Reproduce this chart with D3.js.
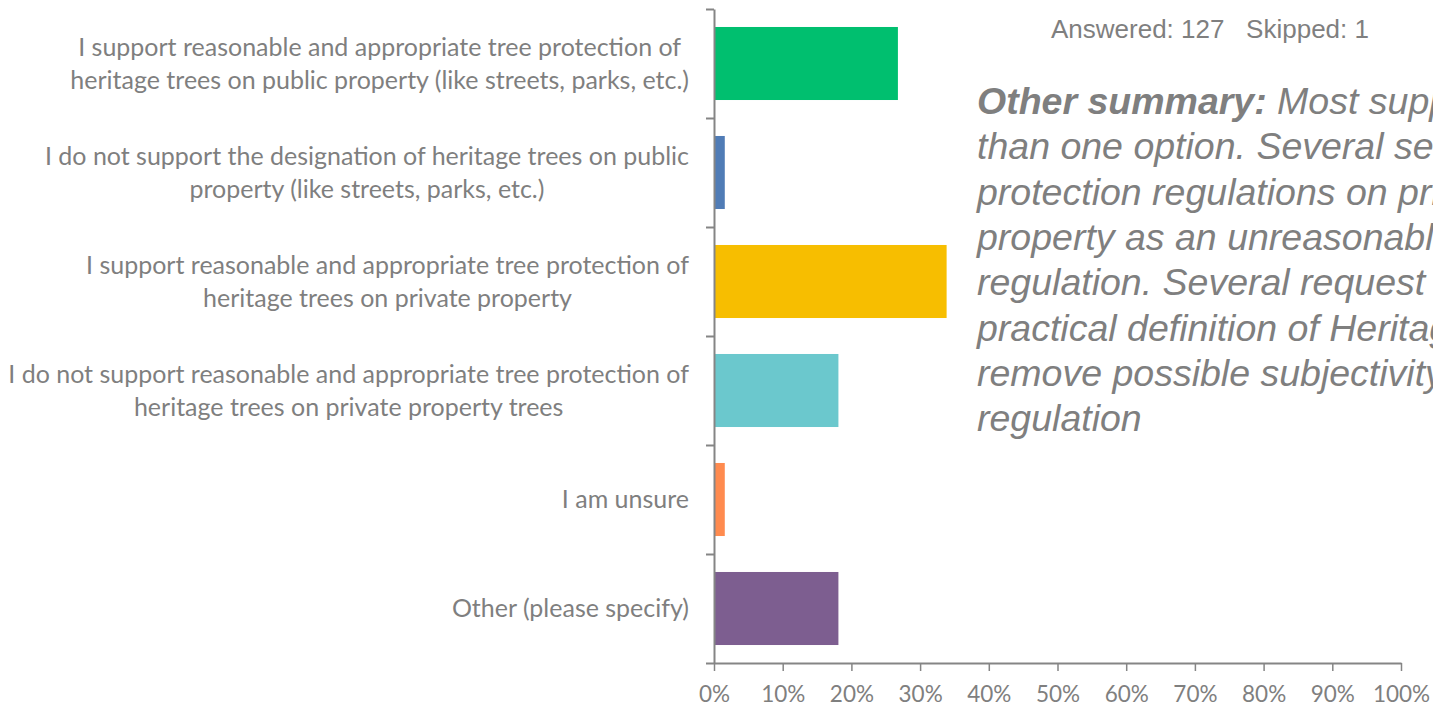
<!DOCTYPE html>
<html>
<head>
<meta charset="utf-8">
<script src="https://cdn.jsdelivr.net/npm/d3@7"></script>
<style>
  html, body { margin: 0; padding: 0; background: #fff; overflow: hidden; }
  svg { display: block; }
</style>
</head>
<body>
<svg id="chart" width="1433" height="707"></svg>
<script>
// ---- data ----
const categories = [
  ["I support reasonable and appropriate tree protection of", "heritage trees on public property (like streets, parks, etc.)"],
  ["I do not support the designation of heritage trees on public", "property (like streets, parks, etc.)"],
  ["I support reasonable and appropriate tree protection of", "heritage trees on private property"],
  ["I do not support reasonable and appropriate tree protection of", "heritage trees on private property trees"],
  ["I am unsure"],
  ["Other (please specify)"]
];
const values = [0.2677, 0.0157, 0.3386, 0.1811, 0.0157, 0.1811];
const colors = ["#00BF6F", "#507CB6", "#F7BE00", "#6BC8CD", "#FF8B4F", "#7D5E90"];
const xTicks = [0, 0.1, 0.2, 0.3, 0.4, 0.5, 0.6, 0.7, 0.8, 0.9, 1.0];
const headerText = "Answered: 127\u00A0\u00A0\u00A0Skipped: 1";
const summaryBold = "Other summary:";
const summaryLines = [
  " Most supported more",
  "than one option. Several see tree",
  "protection regulations on private",
  "property as an unreasonable",
  "regulation. Several request a",
  "practical definition of Heritage Trees to",
  "remove possible subjectivity in the",
  "regulation"
];

// ---- layout ----
const svg = d3.select("#chart");
const pLeft = 714, pRight = 1401, pTop = 9, pBottom = 663;
const gray = "#858585";
const textGray = "#7f7f7f";

const x = d3.scaleLinear().domain([0, 1]).range([pLeft, pRight]);
const idx = d3.range(categories.length);
const y = d3.scaleBand().domain(idx).range([pTop, pBottom]).paddingInner(0.33).paddingOuter(0.165);
const yEdges = d3.scaleLinear().domain([0, categories.length]).range([pTop, pBottom]);

// bars
svg.append("g").selectAll("rect").data(values).join("rect")
  .attr("x", x(0))
  .attr("y", (d, i) => y(i))
  .attr("width", d => x(d) - x(0))
  .attr("height", y.bandwidth())
  .attr("fill", (d, i) => colors[i]);

// y axis (category boundaries)
const yAxis = svg.append("g").attr("transform", `translate(${pLeft},0)`)
  .call(d3.axisLeft(yEdges).tickValues(d3.range(categories.length + 1)).tickFormat("").tickSize(8).tickSizeOuter(0));
yAxis.select(".domain").attr("stroke", gray).attr("stroke-width", 2);
yAxis.selectAll(".tick line").attr("stroke", gray).attr("stroke-width", 2);

// x axis
const xAxis = svg.append("g").attr("transform", `translate(0,${pBottom})`)
  .call(d3.axisBottom(x).tickValues(xTicks).tickFormat(d3.format(".0%")).tickSize(8).tickSizeOuter(0).tickPadding(15));
xAxis.select(".domain").attr("stroke", gray).attr("stroke-width", 2);
xAxis.selectAll(".tick line").attr("stroke", gray).attr("stroke-width", 1.5);
xAxis.selectAll(".tick text")
  .attr("fill", textGray)
  .style("font-family", "Lato, 'Open Sans', sans-serif")
  .style("font-size", "22.5px");

// category labels
const labelFont = "Lato, 'Open Sans', sans-serif";
const labelRight = 689;
const lineGap = 33;
const labelG = svg.append("g")
  .style("font-family", labelFont)
  .style("font-size", "22px")
  .attr("fill", textGray);

const labelGroups = labelG.selectAll("g").data(categories).join("g");
labelGroups.each(function(lines, i) {
  const g = d3.select(this);
  const cy = y(i) + y.bandwidth() / 2;
  const n = lines.length;
  lines.forEach((ln, k) => {
    g.append("text")
      .attr("text-anchor", "middle")
      .attr("y", cy + (k - (n - 1) / 2) * lineGap)
      .attr("dy", "0.35em")
      .text(ln);
  });
});
// scale font so the widest line matches the reference width
let maxW = 0;
labelG.selectAll("text").each(function() { maxW = Math.max(maxW, this.getComputedTextLength()); });
const fs = 22 * 681 / maxW;
labelG.style("font-size", fs + "px");
labelGroups.each(function() {
  const g = d3.select(this);
  let w = 0;
  g.selectAll("text").each(function() { w = Math.max(w, this.getComputedTextLength()); });
  g.selectAll("text").attr("x", labelRight - w / 2);
});

// header
svg.append("text")
  .attr("x", 1051).attr("y", 38)
  .attr("fill", textGray)
  .style("font-family", "'Liberation Sans', Arial, sans-serif")
  .style("font-size", "26px")
  .text(headerText);

// summary
const sumG = svg.append("g")
  .attr("fill", textGray)
  .style("font-family", "'Liberation Sans', Arial, sans-serif")
  .style("font-size", "37.5px")
  .style("font-style", "italic");
summaryLines.forEach((ln, k) => {
  const t = sumG.append("text").attr("x", 977).attr("y", 114 + k * 45.3);
  if (k === 0) {
    t.append("tspan").style("font-weight", "bold").text(summaryBold);
  }
  t.append("tspan").text(ln);
});
</script>
</body>
</html>
